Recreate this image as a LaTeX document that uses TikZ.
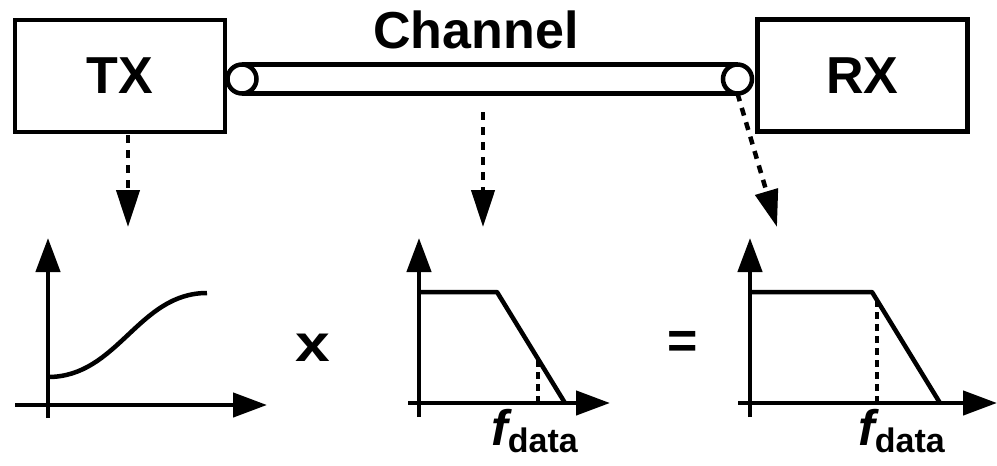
\documentclass[tikz,border=0pt]{standalone}
\usepackage{fontspec}
\setmainfont{Liberation Sans}
\usetikzlibrary{arrows.meta}
\newcommand{\bighead}{\bfseries\fontsize{52}{60}\selectfont}
\newcommand{\fdata}{{\bfseries\itshape\fontsize{50}{56}\selectfont f}\raisebox{-7pt}{\bfseries\fontsize{34}{40}\selectfont data}}
\tikzset{
  block/.style={draw,line width=4.5pt,minimum width=210pt,minimum height=112pt,inner sep=0pt,font=\bighead},
  plug/.style={draw,circle,fill=white,line width=4.5pt,minimum size=29pt,inner sep=0pt,outer sep=0pt},
  probe/.style={line width=4.5pt,dash pattern=on 8pt off 7pt,-{Triangle[length=37pt,width=23pt]}},
  axis/.style={line width=4.5pt,-{Triangle[length=34pt,width=24pt]}},
  resp/.style={line width=4.5pt,line join=round},
  fline/.style={line width=4pt,dash pattern=on 7pt off 5pt},
}
\begin{document}
\begin{tikzpicture}[x=1pt,y=-1pt]
  \useasboundingbox (0,0) rectangle (997,466);
  % transmitter, receiver and the line between them
  \node[block] (tx) at (120,76) {TX};
  \node[block] (rx) at (862.5,75.5) {RX};
  \node[plug] (cl) at (242,79) {};
  \node[plug] (cr) at (737.5,79) {};
  \draw[line width=4.5pt] (cl.north)--(cr.north);
  \draw[line width=4.5pt] (cl.south)--(cr.south);
  \node[font=\bighead,anchor=base] (chan) at (476,48) {Channel};
  % where each response is taken
  \coordinate (txsrc) at (128,135);
  \coordinate (chsrc) at (483,112);
  \coordinate (txend) at (128,227);
  \coordinate (chend) at (483,227);
  \coordinate (rxend) at (777,227);
  \draw[probe] (txsrc)--(txend);
  \draw[probe] (chsrc)--(chend);
  \draw[probe] (cr.south)--(rxend);
  % axes of the three plots
  \foreach \ox/\xa/\xb/\ya/\yb in {48/15/267/405/418, 419/408/610/403/417, 750/738/997/403/417}{
    \draw[axis] (\ox,\yb)--(\ox,238);
    \draw[axis] (\xa,\ya)--(\xb,\ya);
  }
  % TX boost, channel loss, what is left at RX
  \draw[resp] (48,377) .. controls (118,377) and (138,293) .. (207,293);
  \draw[resp] (419,292)--(497,292)--(565,403);
  \draw[fline] (538,360)--(538,403);
  \draw[resp] (750,292)--(872,292)--(940,403);
  \draw[fline] (877,300)--(877,403);
  \node[font=\bighead,xscale=1.2] (times) at (313,348) {x};
  \node[font=\bighead] (equals) at (683,345) {=};
  \node[anchor=base west,inner sep=0pt] (fch) at (491,445) {\fdata};
  \node[anchor=base west,inner sep=0pt] (frx) at (858,445) {\fdata};
\end{tikzpicture}
\end{document}
